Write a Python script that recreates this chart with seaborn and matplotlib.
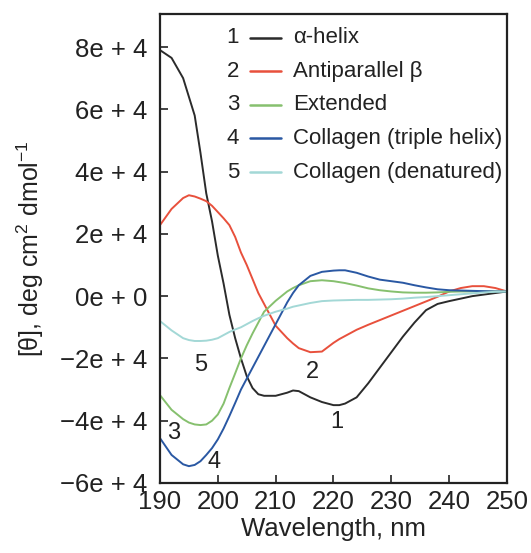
import numpy as np
import pandas as pd
import matplotlib
matplotlib.use("Agg")
import matplotlib.pyplot as plt
import seaborn as sns

# ---------------- data ----------------
wavelength = [190, 192, 194, 195, 196, 197, 198, 199, 200, 201, 202, 203, 204, 205, 206, 207, 208,
              210, 212, 213, 214, 216, 218, 220, 221, 222, 224, 226, 228, 230, 232, 234, 236,
              238, 240, 242, 244, 246, 248, 250]

alpha_helix = [79000, 76500, 70000, 64000, 58000, 46000, 33000, 24000, 13000, 4000, -6000, -13500,
               -20000, -25700, -29500, -31500, -32000, -32000, -31000, -30300, -30500, -32500,
               -34000, -35000, -35000, -34500, -32500, -28000, -23000, -18000, -13000, -8500,
               -4500, -2500, -1600, -800, 0, 500, 1000, 1500]

antiparallel = [22800, 28000, 31500, 32400, 32000, 31300, 30500, 29000, 27000, 25000, 22800, 19000,
                14000, 10000, 5500, 1000, -2500, -9500, -13500, -15200, -16700, -18000, -17800,
                -15000, -13800, -12800, -10800, -9200, -7700, -6200, -4700, -3200, -1700, -200,
                1500, 2600, 3200, 3200, 2600, 1500]

extended = [-31800, -36500, -39500, -40600, -41200, -41400, -41200, -40000, -38000, -34500, -29500,
            -24800, -20000, -15800, -12000, -8500, -5000, -1500, 1500, 2600, 3500, 4800, 5100,
            4800, 4500, 4200, 3400, 2500, 1900, 1500, 1200, 1100, 1100, 1200, 1400, 1500, 1500,
            1500, 1500, 1500]

collagen_triple = [-45600, -51000, -54000, -54600, -54200, -53000, -51000, -48800, -46000, -42500,
                   -38500, -34300, -30000, -26500, -23000, -19500, -16000, -9000, -2000, 1000, 3500,
                   6500, 7800, 8200, 8300, 8300, 7500, 6300, 5300, 4800, 4300, 3500, 2800, 2200,
                   1900, 1800, 1700, 1600, 1500, 1500]

collagen_denat = [-8000, -11000, -13500, -14100, -14400, -14400, -14300, -14000, -13500, -12500,
                  -11500, -10700, -10000, -9000, -8000, -7100, -6300, -5000, -4000, -3400, -3000,
                  -2200, -1600, -1400, -1350, -1300, -1200, -1200, -1100, -1000, -800, -500, -300,
                  0, 300, 600, 900, 1200, 1400, 1500]

series_names = ["α-helix", "Antiparallel β", "Extended",
                "Collagen (triple helix)", "Collagen (denatured)"]
series_numbers = ["1", "2", "3", "4", "5"]
series_colors = ["#2b2b2b", "#e8503c", "#86c06e", "#2a58a3", "#a3d8d6"]

# curve label annotations (number, x, y)
label_numbers = ["1", "2", "3", "4", "5"]
label_x = [220.6, 216.3, 192.4, 199.3, 197.0]
label_y = [-40500, -24500, -43800, -53300, -22000]

x_ticks = [190, 200, 210, 220, 230, 240, 250]
y_ticks = [-60000, -40000, -20000, 0, 20000, 40000, 60000, 80000]
y_tick_labels = ["−6e + 4", "−4e + 4", "−2e + 4", "0e + 0",
                 "2e + 4", "4e + 4", "6e + 4", "8e + 4"]

# ---------------- build frame ----------------
values = [alpha_helix, antiparallel, extended, collagen_triple, collagen_denat]
frames = []
for name, vals in zip(series_names, values):
    frames.append(pd.DataFrame({"Wavelength": wavelength, "theta": vals, "Structure": name}))
df = pd.concat(frames, ignore_index=True)

# ---------------- style ----------------
sns.set_theme(style="ticks")
plt.rcParams["font.family"] = ["Liberation Sans", "DejaVu Sans"]
plt.rcParams["mathtext.fontset"] = "custom"
plt.rcParams["mathtext.rm"] = "Liberation Sans"
plt.rcParams["mathtext.it"] = "Liberation Sans:italic"
plt.rcParams["mathtext.bf"] = "Liberation Sans:bold"

fig = plt.figure(figsize=(5.31, 5.53), dpi=100)
ax = fig.add_axes([0.3013, 0.1266, 0.6535, 0.8481])

palette = dict(zip(series_names, series_colors))
sns.lineplot(data=df, x="Wavelength", y="theta", hue="Structure", palette=palette,
             hue_order=series_names, linewidth=1.4, legend=False, ax=ax)

ax.set_xlim(190, 250)
ax.set_ylim(-60000, 90600)
ax.set_xticks(x_ticks)
ax.set_xticklabels([str(t) for t in x_ticks])
ax.set_yticks(y_ticks)
ax.set_yticklabels(y_tick_labels)

ax.tick_params(axis="both", direction="in", length=6, width=1.2, labelsize=18.5,
               colors="#222222", top=False, right=False)
ax.tick_params(axis="y", pad=9)
ax.tick_params(axis="x", pad=5)
for sp in ax.spines.values():
    sp.set_visible(True)
    sp.set_linewidth(1.6)
    sp.set_color("#222222")

ax.set_xlabel("Wavelength, nm", fontsize=18.5, color="#222222", labelpad=2)
ax.set_ylabel(r"[θ], deg cm$^{2}$ dmol$^{\mathrm{-1}}$", fontsize=18, color="#222222", labelpad=10)

# curve number annotations
for t, x, y in zip(label_numbers, label_x, label_y):
    ax.text(x, y, t, fontsize=17, color="#222222", ha="center", va="center")

# custom legend: number, short line, label
row_y = [0.949, 0.878, 0.806, 0.735, 0.663]
for num, name, col, yy in zip(series_numbers, series_names, series_colors, row_y):
    ax.text(0.21, yy, num, transform=ax.transAxes, fontsize=16, color="#222222",
            ha="center", va="center")
    ax.plot([0.259, 0.350], [yy, yy], transform=ax.transAxes, color=col, linewidth=1.8)
    ax.text(0.383, yy, name, transform=ax.transAxes, fontsize=16, color="#222222",
            ha="left", va="center")

fig.savefig("out.png", dpi=100)
